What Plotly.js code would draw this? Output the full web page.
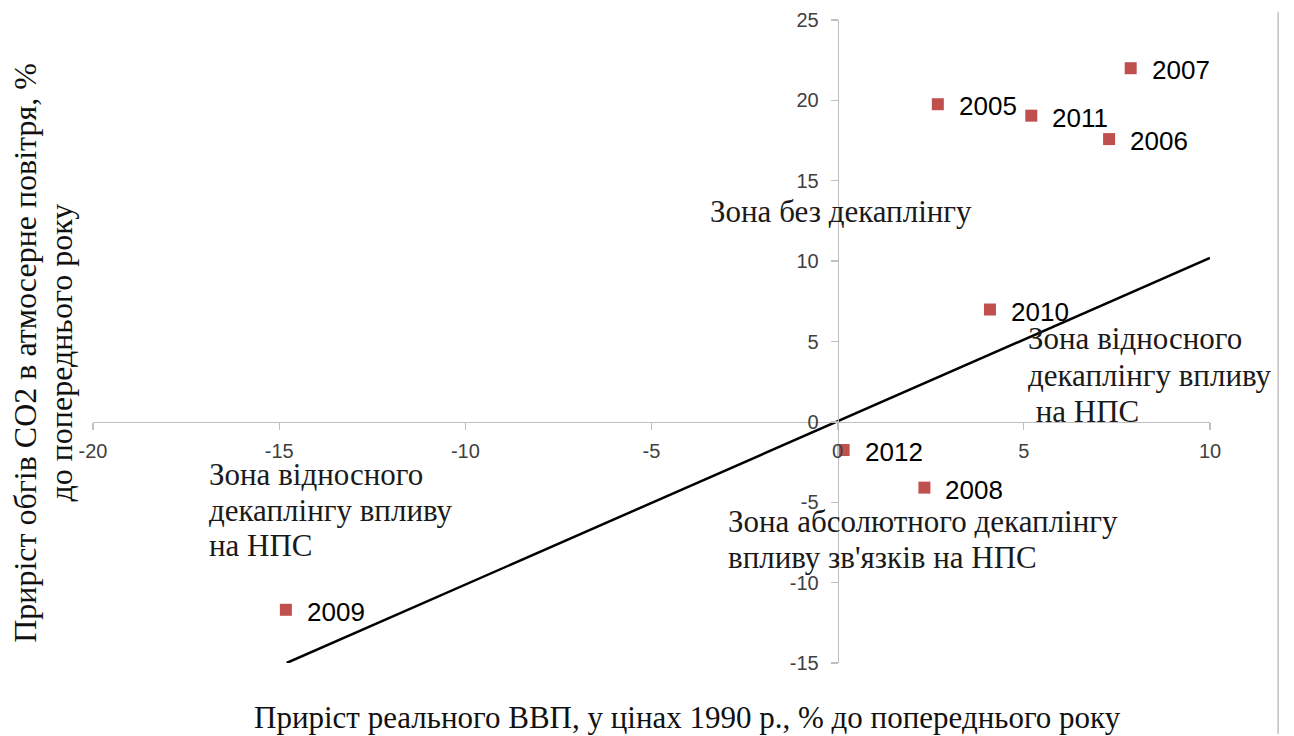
<!DOCTYPE html>
<html>
<head>
<meta charset="utf-8">
<script src="https://cdn.plot.ly/plotly-3.0.1.min.js"></script>
<style>html,body{margin:0;padding:0;background:#fff}#chart{width:1294px;height:736px}</style>
</head>
<body>
<div id="chart"></div>
<script>
// Data
const years = ['2005', '2006', '2007', '2008', '2009', '2010', '2011', '2012'];
const gdpGrowth = [2.69, 7.29, 7.87, 2.33, -14.82, 4.09, 5.20, 0.16];
const co2Growth = [19.76, 17.59, 22.0, -4.09, -11.69, 6.99, 19.05, -1.75];
const lineX = [-14.8, 10];
const lineY = [-15.0, 10.2];
const xTicks = [-20, -15, -10, -5, 0, 5, 10];
const yTicks = [-15, -10, -5, 0, 5, 10, 15, 20, 25];
const xRange = [-20, 10];
const yRange = [-15, 25];

const xTitle = 'Приріст реального ВВП, у цінах 1990 р., % до попереднього року';
const yTitleLines = ['Приріст обгів СО2 в атмосерне повітря, %', 'до попереднього року'];
// zone captions, one entry per line (paper positions)
const zoneLines = [
  {text: 'Зона без декаплінгу', px: 0.551, py: 0.7014},
  {text: 'Зона відносного', px: 0.835, py: 0.5039},
  {text: 'декаплінгу впливу', px: 0.835, py: 0.4479},
  {text: ' на НПС', px: 0.835, py: 0.3919},
  {text: 'Зона відносного', px: 0.102, py: 0.2939},
  {text: 'декаплінгу впливу', px: 0.102, py: 0.2379},
  {text: 'на НПС', px: 0.102, py: 0.1820},
  {text: 'Зона абсолютного декаплінгу', px: 0.567, py: 0.2193},
  {text: 'впливу зв\'язків на НПС', px: 0.567, py: 0.1633}
];

const serif = 'Liberation Serif, Times New Roman, serif';
const sans = 'Liberation Sans, Arial, sans-serif';

const traces = [
  {
    x: lineX, y: lineY, mode: 'lines', type: 'scatter',
    line: {color: '#000000', width: 2.5}, hoverinfo: 'skip', showlegend: false
  },
  {
    x: gdpGrowth, y: co2Growth, mode: 'markers', type: 'scatter',
    marker: {symbol: 'square', size: 12, color: '#C0504D', line: {width: 0}},
    text: years, showlegend: false
  }
];

const annotations = [];
years.forEach((yr, i) => {
  annotations.push({
    x: gdpGrowth[i], y: co2Growth[i], xref: 'x', yref: 'y',
    text: yr, showarrow: false, xanchor: 'left', yanchor: 'middle',
    xshift: 19, yshift: -2,
    font: {family: sans, size: 26, color: '#000000'}
  });
});
zoneLines.forEach(z => {
  annotations.push({
    x: z.px, y: z.py, xref: 'paper', yref: 'paper',
    text: z.text.replace(/^ /, '&nbsp;'), showarrow: false, xanchor: 'left', yanchor: 'middle', align: 'left',
    font: {family: serif, size: 31, color: '#1a1a1a'}
  });
});
annotations.push({
  x: 0.532, y: -0.085, xref: 'paper', yref: 'paper',
  text: xTitle, showarrow: false, xanchor: 'center', yanchor: 'middle',
  font: {family: serif, size: 31, color: '#111111'}
});
const yTitleX = [-0.0605, -0.0285];
yTitleLines.forEach((t, i) => {
  annotations.push({
    x: yTitleX[i], y: 0.483, xref: 'paper', yref: 'paper',
    text: t, showarrow: false, textangle: -90, xanchor: 'center', yanchor: 'middle',
    font: {family: serif, size: 32, color: '#111111'}
  });
});

const layout = {
  width: 1294, height: 736,
  margin: {l: 93, r: 84, t: 20, b: 73},
  paper_bgcolor: '#ffffff', plot_bgcolor: '#ffffff',
  showlegend: false,
  xaxis: {
    range: xRange, tickvals: xTicks, ticktext: xTicks.map(String),
    anchor: 'free', position: (0 - yRange[0]) / (yRange[1] - yRange[0]),
    showline: true, linecolor: '#BFBFBF', linewidth: 1.3,
    ticks: 'outside', ticklen: 7, tickcolor: '#BFBFBF', tickwidth: 1.3,
    ticklabelstandoff: 4,
    showgrid: false, zeroline: false,
    tickfont: {family: sans, size: 20, color: '#404040'}
  },
  yaxis: {
    range: yRange, tickvals: yTicks, ticktext: yTicks.map(String),
    anchor: 'free', position: (0 - xRange[0]) / (xRange[1] - xRange[0]),
    showline: true, linecolor: '#BFBFBF', linewidth: 1.3,
    ticks: 'outside', ticklen: 7, tickcolor: '#BFBFBF', tickwidth: 1.3,
    ticklabelstandoff: 8,
    showgrid: false, zeroline: false,
    tickfont: {family: sans, size: 20, color: '#404040'}
  },
  shapes: [{
    type: 'line', xref: 'paper', yref: 'paper',
    x0: 1.061, x1: 1.061, y0: 1.012, y1: -0.11,
    line: {color: '#BFBFBF', width: 1.5}
  }],
  annotations: annotations
};

Plotly.newPlot('chart', traces, layout, {displayModeBar: false, staticPlot: true});
</script>
</body>
</html>
